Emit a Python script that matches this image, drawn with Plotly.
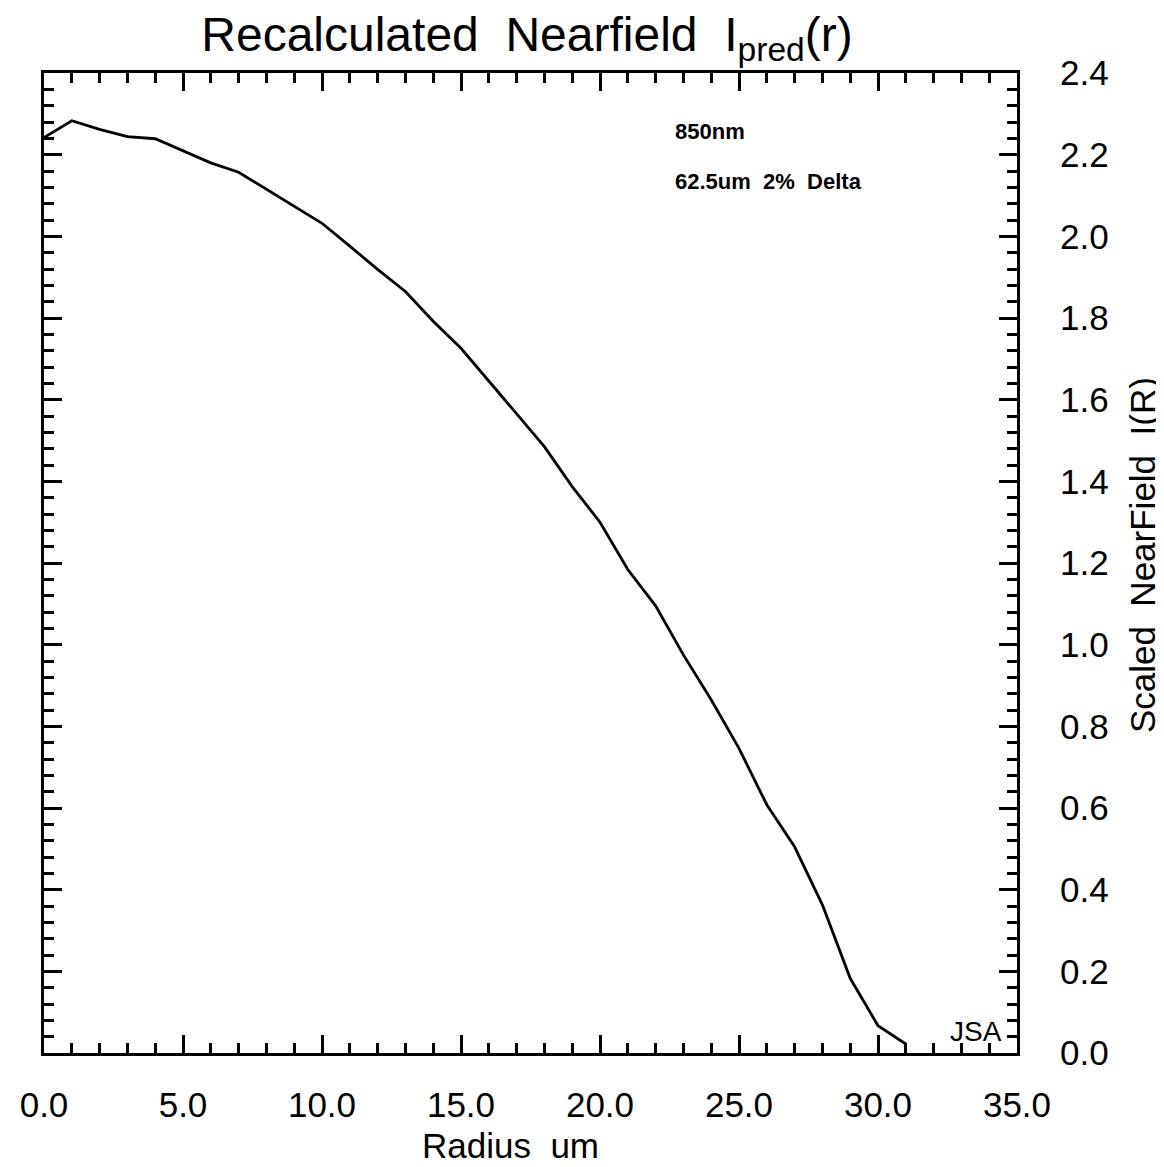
import plotly.graph_objects as go

radius = list(range(0, 32))
intensity = [2.242, 2.283, 2.262, 2.244, 2.239, 2.210, 2.180, 2.157, 2.115, 2.073,
             2.032, 1.976, 1.919, 1.865, 1.792, 1.726, 1.645, 1.564, 1.485, 1.387,
             1.300, 1.184, 1.095, 0.975, 0.865, 0.746, 0.608, 0.505, 0.363, 0.183,
             0.067, 0.022]

x_ticks = [0, 5, 10, 15, 20, 25, 30, 35]
y_ticks = [0.0, 0.2, 0.4, 0.6, 0.8, 1.0, 1.2, 1.4, 1.6, 1.8, 2.0, 2.2, 2.4]

FONT = "Liberation Sans"

OFF = 8                      # page body margin
W, H = 1164 - OFF, 1167 - OFF
L, T, PW, PH = 29, 65, 980, 980
R = W - L - PW
B = H - T - PH


def px(xp):
    return (xp - OFF - L) / PW


def py(yp):
    return (T + PH - (yp - OFF)) / PH


fig = go.Figure()
fig.add_trace(go.Scatter(x=radius, y=intensity, mode="lines",
                         line=dict(color="black", width=2.8), showlegend=False))

axis_common = dict(showline=True, linewidth=3, linecolor="black", mirror="allticks",
                   ticks="inside", ticklen=18, tickwidth=2.5, tickcolor="black",
                   showgrid=False, zeroline=False,
                   tickfont=dict(family=FONT, size=35, color="black"))

fig.update_layout(
    width=W, height=H,
    margin=dict(l=L, r=R, t=T, b=B, pad=0),
    paper_bgcolor="white", plot_bgcolor="white",
    font=dict(family=FONT, color="black"),
    title=dict(text="Recalculated  Nearfield  I<sub>pred</sub>(r)",
               x=(527 - OFF) / W, xanchor="center",
               y=1 - (34 - OFF) / H, yanchor="middle", yref="container",
               font=dict(family=FONT, size=48, color="black")),
    xaxis=dict(range=[0, 35], tickvals=x_ticks, tickformat=".1f",
               minor=dict(dtick=1, ticks="inside", ticklen=10, tickwidth=2.5, tickcolor="black"),
               ticklabelstandoff=19, **axis_common),
    yaxis=dict(range=[0, 2.4], tickvals=y_ticks, tickformat=".1f", side="right",
               minor=dict(dtick=0.04, tick0=0, ticks="inside", ticklen=10, tickwidth=2.5, tickcolor="black"),
               ticklabelstandoff=33, **axis_common),
    annotations=[
        dict(text="Radius  um", x=px(507), y=py(1145), xref="paper", yref="paper",
             xanchor="center", yanchor="middle", showarrow=False,
             font=dict(family=FONT, size=35, color="black")),
        dict(text="Scaled  NearField  I(R)", x=px(1143), y=py(555), xref="paper", yref="paper",
             xanchor="center", yanchor="middle", textangle=-90, showarrow=False,
             font=dict(family=FONT, size=35, color="black")),
        dict(text="<b>850nm</b>", x=px(671), y=py(132),
             xref="paper", yref="paper", xanchor="left", yanchor="middle",
             showarrow=False, font=dict(family=FONT, size=22, color="black")),
        dict(text="<b>62.5um  2%  Delta</b>", x=px(671), y=py(181),
             xref="paper", yref="paper", xanchor="left", yanchor="middle",
             showarrow=False, font=dict(family=FONT, size=22, color="black")),
        dict(text="JSA", x=px(1004), y=py(1031),
             xref="paper", yref="paper", xanchor="right", yanchor="middle",
             showarrow=False, font=dict(family=FONT, size=28, color="black")),
    ],
)

fig.write_html("out.html")
